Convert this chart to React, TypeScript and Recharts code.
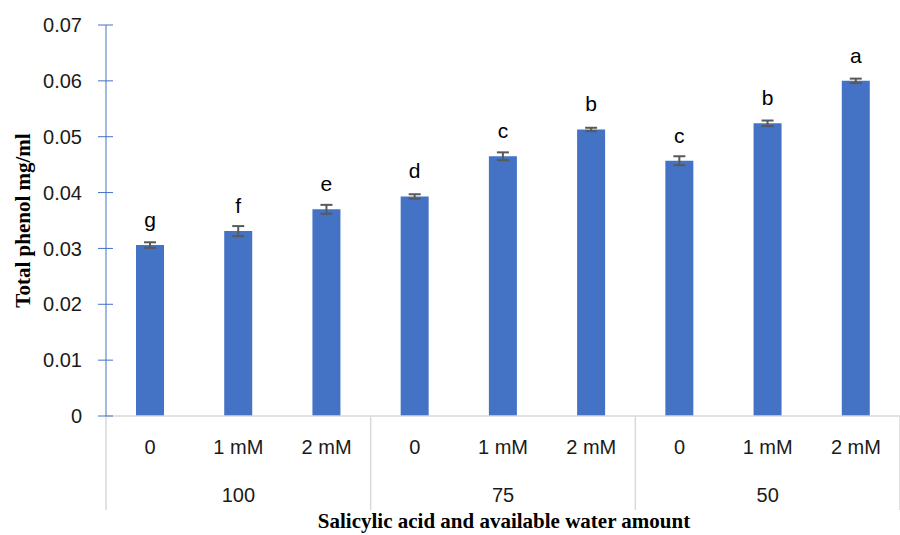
import React from "react";
import { BarChart, Bar, XAxis, YAxis, ErrorBar, LabelList, Label } from "recharts";

const doses = ["0", "1 mM", "2 mM", "0", "1 mM", "2 mM", "0", "1 mM", "2 mM"];
const groups = ["100", "100", "100", "75", "75", "75", "50", "50", "50"];
const phenol = [0.0306, 0.0331, 0.037, 0.0393, 0.0465, 0.0513, 0.0457, 0.0524, 0.06];
const phenolErr = [0.0005, 0.0009, 0.0008, 0.0004, 0.0007, 0.0003, 0.0008, 0.0005, 0.0004];
const letters = ["g", "f", "e", "d", "c", "b", "c", "b", "a"];
const yTicks = [0, 0.01, 0.02, 0.03, 0.04, 0.05, 0.06, 0.07];

const data = doses.map((dose, i) => ({
  dose,
  group: groups[i],
  value: phenol[i],
  err: phenolErr[i],
  letter: letters[i],
}));

const FONT = "'Liberation Sans', Arial, sans-serif";
const SERIF = "'Liberation Serif', 'Times New Roman', serif";

const YTick = ({ x, y, payload }: any) => (
  <g>
    <line x1={x - 8} x2={x + 7} y1={y} y2={y} stroke="#4472C4" strokeWidth={1} />
    <text x={x - 24} y={y} dy="0.36em" textAnchor="end" fontSize={20} fontFamily={FONT} fill="#1a1a1a">
      {payload.value === 0 ? "0" : payload.value.toFixed(2)}
    </text>
  </g>
);

const DoseTick = ({ x, y, payload }: any) => (
  <text x={x} y={y + 38} textAnchor="middle" fontSize={20} fontFamily={FONT} fill="#1a1a1a">
    {payload.value}
  </text>
);

const GroupTick = ({ x, y, payload, index }: any) => {
  const half = payload.offset || 44;
  return (
    <g>
      {index % 3 === 0 && (
        <line x1={x - half} x2={x - half} y1={y - 50} y2={y + 44} stroke="#D9D9D9" strokeWidth={1.5} />
      )}
      {index === doses.length - 1 && (
        <line x1={x + half} x2={x + half} y1={y - 50} y2={y + 44} stroke="#D9D9D9" strokeWidth={1.5} />
      )}
      {index % 3 === 1 && (
        <text x={x} y={y + 36} textAnchor="middle" fontSize={20} fontFamily={FONT} fill="#1a1a1a">
          {payload.value}
        </text>
      )}
    </g>
  );
};

export default function App() {
  return (
    <div style={{ position: "absolute", left: 0, top: 0, background: "#fff" }}>
      <BarChart width={900} height={535} data={data} margin={{ top: 25, right: 0, left: 0, bottom: 0 }}>
        <XAxis
          xAxisId="dose"
          dataKey="dose"
          height={50}
          axisLine={{ stroke: "#D9D9D9", strokeWidth: 1.5 }}
          tickLine={false}
          tickSize={0}
          tickMargin={0}
          interval={0}
          tick={<DoseTick />}
        />
        <XAxis
          xAxisId="grp"
          dataKey="group"
          height={69}
          axisLine={false}
          tickLine={false}
          tickSize={0}
          tickMargin={0}
          interval={0}
          tick={<GroupTick />}
        >
          <Label
            content={() => (
              <text x={504} y={528} textAnchor="middle" fontSize={21} fontWeight="bold" fontFamily={SERIF} fill="#000">
                Salicylic acid and available water amount
              </text>
            )}
          />
        </XAxis>
        <YAxis
          width={106}
          domain={[0, 0.07]}
          ticks={yTicks}
          axisLine={{ stroke: "#4472C4", strokeWidth: 1 }}
          tickLine={false}
          tickSize={0}
          tickMargin={0}
          tick={<YTick />}
        >
          <Label
            content={(p: any) => {
              const cx = 23;
              const cy = p.viewBox ? p.viewBox.y + p.viewBox.height / 2 : 220;
              return (
                <text
                  x={cx}
                  y={cy}
                  transform={`rotate(-90 ${cx} ${cy})`}
                  textAnchor="middle"
                  dy="0.35em"
                  fontSize={21}
                  fontWeight="bold"
                  fontFamily={SERIF}
                  fill="#000"
                >
                  Total phenol mg/ml
                </text>
              );
            }}
          />
        </YAxis>
        <Bar xAxisId="dose" dataKey="value" fill="#4472C4" barSize={28} isAnimationActive={false}>
          <ErrorBar dataKey="err" width={6} stroke="#595959" strokeWidth={2} />
          <LabelList dataKey="letter" position="top" offset={18} fontSize={21} fontFamily={FONT} fill="#000" />
        </Bar>
      </BarChart>
    </div>
  );
}
